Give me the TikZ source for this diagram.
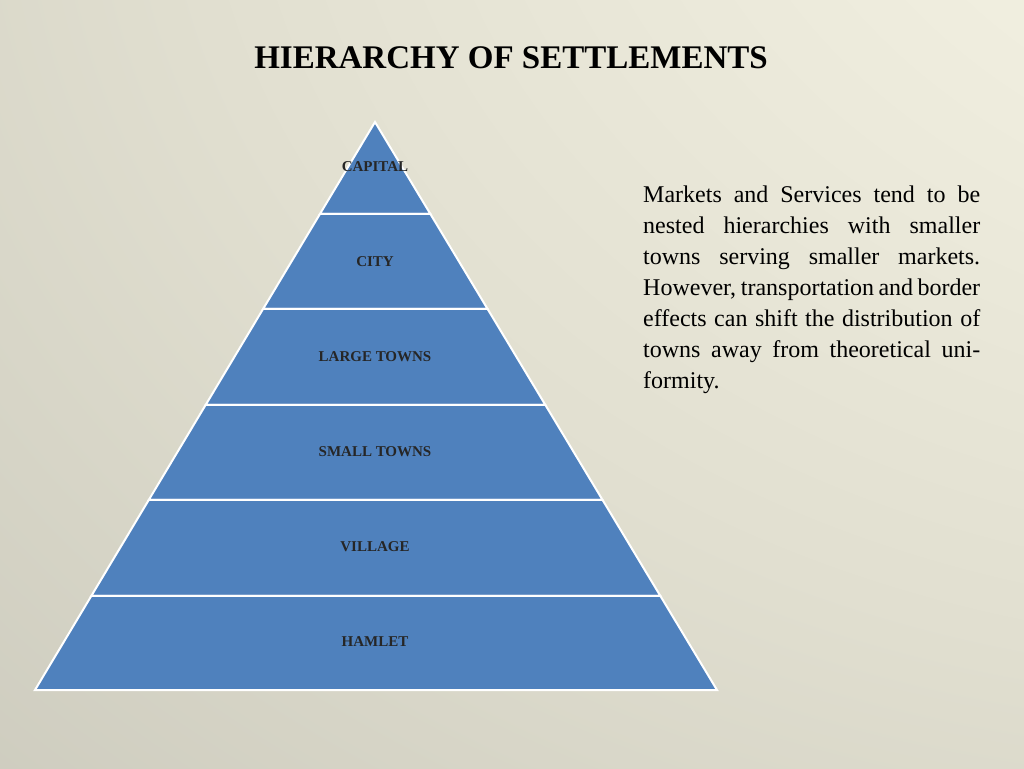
\documentclass[tikz,border=0pt]{standalone}
\usepackage{fontspec}
\setmainfont{Liberation Serif}
\definecolor{bandblue}{RGB}{79,129,189}
\definecolor{bgA}{RGB}{247,245,230}
\definecolor{bgB}{RGB}{225,223,208}
\definecolor{bgC}{RGB}{180,179,168}
\definecolor{bgD}{RGB}{140,140,130}
\definecolor{bgE}{RGB}{115,115,108}
\pgfdeclareradialshading{bgshade}{\pgfpoint{59bp}{56bp}}{%
color(0bp)=(bgA);
color(20bp)=(bgA);
color(55bp)=(bgB);
color(110bp)=(bgC);
color(150bp)=(bgD);
color(160bp)=(bgE)}
\begin{document}
\begin{tikzpicture}[x=1pt,y=1pt,
  band/.style={fill=bandblue,draw=white,line width=2pt},
  lab/.style={font=\fontsize{15}{17}\selectfont\bfseries,text=black!85}]
\useasboundingbox (0,0) rectangle (1024,768);
\shade[shading=bgshade] (0,0) rectangle (1024,768);
\node[font=\fontsize{33}{36}\selectfont\bfseries] (title) at (511,710) {HIERARCHY OF SETTLEMENTS};
\foreach \t/\b/\lbl/\ly [count=\i] in {122/214/CAPITAL/167,214/309/CITY/262,309/405/LARGE TOWNS/357,405/500/SMALL TOWNS/452,500/596/VILLAGE/547,596/690/HAMLET/642}{
  \pgfmathsetmacro{\ltx}{375-(\t-122)/568*340}
  \pgfmathsetmacro{\rtx}{375+(\t-122)/568*342}
  \pgfmathsetmacro{\lbx}{375-(\b-122)/568*340}
  \pgfmathsetmacro{\rbx}{375+(\b-122)/568*342}
  \draw[band] (\ltx,768-\t) -- (\rtx,768-\t) -- (\rbx,768-\b) -- (\lbx,768-\b) -- cycle;
  \node[lab] (l\i) at (375,768-\ly) {\lbl};
}
\node[anchor=north west,inner sep=0pt,text width=337pt,align=justify,font=\fontsize{24}{31}\selectfont] (para) at (643,582)
{\parshape 2 0pt 337pt 38pt 299pt Markets and Services tend to be nested hierarchies with smaller towns serving smaller markets. However, transportation and border effects can shift the distribution of towns away from theoretical uniformity.};
\end{tikzpicture}
\end{document}
